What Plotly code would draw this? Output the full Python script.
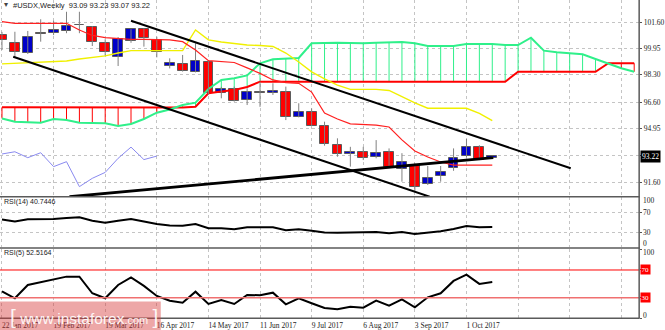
import plotly.graph_objects as go
from plotly.subplots import make_subplots

W, H = 665, 330

# ---- weekly USDX candles (bar index 0 = week of 22 Jan 2017) ----
opens = [100.77, 100.31, 99.68, 100.90, 100.89, 101.06, 101.42, 101.27, 100.31, 99.43,
         100.43, 101.14, 100.48, 98.85, 98.98, 98.49, 99.12, 97.18, 97.39, 96.73,
         97.20, 97.14, 97.24, 95.68, 95.99, 95.12, 93.91, 93.35, 93.49, 93.14,
         93.49, 92.39, 92.66, 91.48, 92.00, 92.46, 93.22, 93.76, 93.09]
highs = [100.98, 100.99, 101.04, 101.77, 101.68, 102.24, 102.24, 101.35, 100.52, 100.66,
         101.15, 101.20, 100.68, 99.33, 99.54, 100.27, 99.20, 97.55, 97.56, 97.46,
         97.87, 97.77, 97.56, 96.52, 96.20, 95.37, 94.33, 93.80, 93.80, 94.22,
         93.70, 93.40, 92.77, 92.60, 92.60, 93.70, 94.29, 93.90, 93.23]
lows = [99.85, 99.35, 99.60, 100.37, 100.78, 100.90, 100.90, 100.10, 99.47, 98.85,
        100.30, 100.06, 99.39, 98.70, 98.50, 98.45, 97.05, 96.83, 96.62, 96.41,
        96.30, 97.04, 95.47, 95.64, 95.10, 93.87, 93.18, 92.56, 92.97, 93.08,
        92.55, 91.62, 91.04, 91.41, 91.62, 92.30, 93.14, 92.97, 93.07]
closes = [100.47, 99.71, 100.68, 100.88, 101.10, 101.35, 101.40, 100.33, 99.74, 100.52,
          101.14, 100.58, 99.71, 99.06, 98.54, 99.18, 97.14, 97.39, 96.66, 97.24,
          97.17, 97.31, 95.64, 95.96, 95.12, 93.96, 93.35, 93.49, 93.12, 93.43,
          92.56, 92.87, 91.31, 91.83, 92.20, 93.08, 93.78, 93.00, 93.22]

# ---- Ichimoku ----
tenkan = [101.62, 101.52, 101.52, 101.52, 101.52, 101.52, 101.10, 100.76, 100.62, 100.57,
          100.52, 100.52, 100.52, 100.48, 100.37, 99.85, 99.18, 99.12, 99.07, 98.73,
          98.39, 97.98, 97.81, 97.77, 97.22, 95.91, 95.54, 95.23, 95.19, 95.16,
          95.04, 94.23, 93.54, 93.16, 92.85, 92.66, 92.66, 92.66, 92.66]
kijun = [98.98, 99.02, 99.04, 99.08, 99.13, 99.16, 99.29, 99.38, 99.48, 99.66,
         99.81, 99.81, 99.81, 99.81, 99.81, 101.10, 100.48, 100.35, 100.26, 100.16,
         100.13, 100.07, 99.66, 99.10, 98.48, 98.04, 97.66, 97.39, 97.39, 97.39,
         97.32, 96.91, 96.54, 96.21, 96.21, 96.21, 96.21, 95.89, 95.43]
# leading spans, already plotted 26 bars ahead (indices 0..49)
span_a = [95.57, 95.37, 95.34, 95.31, 95.54, 95.48, 95.31, 95.29, 95.27, 95.10,
          95.23, 95.54, 95.93, 96.13, 96.41, 96.56, 97.41, 97.98, 98.08, 98.26,
          99.02, 99.27, 99.33, 99.35, 100.27, 100.31, 100.31, 100.29, 100.27, 100.31,
          100.33, 100.35, 100.27, 100.10, 100.10, 100.10, 100.22, 100.22, 100.22, 100.16,
          100.16, 100.62, 99.81, 99.71, 99.66, 99.58, 99.29, 99.02, 98.71, 98.49]
span_b = [96.27, 96.27, 96.27, 96.27, 96.27, 96.27, 96.27, 96.27, 96.27, 96.27,
          96.27, 96.27, 96.27, 96.27, 96.25, 96.30, 97.15, 97.26, 97.35, 97.54,
          97.87, 97.87, 97.87, 97.87, 97.87, 97.87, 97.87, 97.87, 97.87, 97.87,
          97.87, 97.87, 97.87, 97.87, 97.87, 97.87, 97.87, 97.87, 97.87, 97.87,
          98.49, 98.49, 98.49, 98.49, 98.49, 98.49, 98.49, 99.02, 99.02, 99.02]
chikou_lag = 26

# ---- oscillators ----
rsi14 = [55.6, 51.6, 56.0, 56.2, 56.6, 58.6, 60.0, 53.2, 49.2, 53.2,
         56.6, 51.6, 46.6, 43.6, 43.2, 46.6, 38.0, 38.0, 36.0, 40.0,
         40.0, 40.0, 34.0, 36.0, 33.2, 29.6, 29.2, 29.2, 29.2, 30.6,
         28.0, 30.6, 26.6, 29.2, 32.0, 36.6, 42.6, 40.0, 40.7446]
rsi5 = [39.3, 29.2, 48.4, 52.3, 56.6, 60.4, 60.4, 36.4, 29.2, 48.4,
        59.2, 47.0, 32.5, 25.7, 22.8, 38.7, 21.0, 26.7, 21.0, 34.0,
        33.5, 37.3, 20.5, 29.2, 22.0, 15.2, 13.3, 17.0, 15.6, 25.7,
        18.5, 27.7, 16.2, 30.6, 36.4, 54.2, 63.3, 49.9, 52.5164]
rsi_levels = [70, 30]

# ---- hand-drawn trend lines (bar index, price) ----
trend_upper_x, trend_upper_y = [10.0, 44.08], [101.68, 92.46]
trend_lower_x, trend_lower_y = [0.87, 33.15], [99.43, 90.68]
trend_rise_x, trend_rise_y = [5.23, 38.08], [90.68, 93.12]

# ---- axis labels ----
date_labels = ["22 Jan 2017", "19 Feb 2017", "19 Mar 2017", "16 Apr 2017", "14 May 2017",
               "11 Jun 2017", "9 Jul 2017", "6 Aug 2017", "3 Sep 2017", "1 Oct 2017"]
label_step = 4
price_ticks = [91.60, 93.25, 94.95, 96.60, 98.30, 99.95, 101.60]
title_text = "#USDX,Weekly  93.09 93.23 93.07 93.22"
last_price = 93.22

# ---------------------------------------------------------------
def px(xpix):
    return xpix / W


def py(ypix):
    return 1 - ypix / H


PLOT_R = 644
n = len(closes)
idx = list(range(n))

fig = make_subplots(rows=3, cols=1, shared_xaxes=True, vertical_spacing=0.0)

# cloud hatching between the leading spans
hx_g, hy_g, hx_r, hy_r = [], [], [], []
for i, (a, b) in enumerate(zip(span_a, span_b)):
    if a >= b:
        hx_g += [i, i, None]
        hy_g += [a, b, None]
    else:
        hx_r += [i, i, None]
        hy_r += [a, b, None]
green = "#2ff08a"
fig.add_trace(go.Scatter(x=hx_g, y=hy_g, mode="lines", line=dict(color=green, width=1),
                         hoverinfo="skip"), row=1, col=1)
fig.add_trace(go.Scatter(x=hx_r, y=hy_r, mode="lines", line=dict(color="#ff0000", width=1),
                         hoverinfo="skip"), row=1, col=1)
span_x = list(range(len(span_a)))
fig.add_trace(go.Scatter(x=span_x, y=span_b, mode="lines", line=dict(color="#ff0000", width=2)),
              row=1, col=1)
fig.add_trace(go.Scatter(x=span_x, y=span_a, mode="lines", line=dict(color=green, width=2)),
              row=1, col=1)

# candles: wicks then bodies
wx, wy = [], []
for i in idx:
    wx += [i, i, None]
    wy += [lows[i], highs[i], None]
fig.add_trace(go.Scatter(x=wx, y=wy, mode="lines", line=dict(color="#808080", width=1),
                         hoverinfo="skip"), row=1, col=1)

for up, fill in ((True, "#0000c8"), (False, "#ff0000")):
    sel = [i for i in idx if (closes[i] > opens[i]) == up]
    fig.add_trace(go.Bar(
        x=sel,
        base=[min(opens[i], closes[i]) for i in sel],
        y=[abs(closes[i] - opens[i]) for i in sel],
        width=0.76,
        marker=dict(color=fill, line=dict(color="#5c5c5c", width=1)),
    ), row=1, col=1)

# Kijun, Tenkan, lagging span
fig.add_trace(go.Scatter(x=idx, y=kijun, mode="lines", line=dict(color="#f0f000", width=1.4)),
              row=1, col=1)
fig.add_trace(go.Scatter(x=idx, y=tenkan, mode="lines", line=dict(color="#ff2020", width=1.2)),
              row=1, col=1)
lag_x = [i - chikou_lag for i in idx if i >= chikou_lag]
lag_y = [closes[i] for i in idx if i >= chikou_lag]
fig.add_trace(go.Scatter(x=lag_x, y=lag_y, mode="lines", line=dict(color="#8a8af0", width=1)),
              row=1, col=1)

# trend lines
for tx, ty, w in ((trend_upper_x, trend_upper_y, 2), (trend_lower_x, trend_lower_y, 2),
                  (trend_rise_x, trend_rise_y, 2.8)):
    fig.add_trace(go.Scatter(x=tx, y=ty, mode="lines", line=dict(color="#000000", width=w)),
                  row=1, col=1)

# RSI panels
fig.add_trace(go.Scatter(x=idx, y=rsi14, mode="lines", line=dict(color="#000000", width=2)),
              row=2, col=1)
fig.add_trace(go.Scatter(x=idx, y=rsi5, mode="lines", line=dict(color="#000000", width=2)),
              row=3, col=1)

# ---- axes ----
xr = [-2 / 13, (PLOT_R - 2) / 13]
tick_idx = list(range(0, 49, label_step))
tick_txt = [date_labels[k] if k < len(date_labels) else "" for k in range(len(tick_idx))]
axis_font = dict(family="Liberation Serif", size=7.5, color="#222222")

fig.update_xaxes(range=xr, domain=[0, px(PLOT_R)], showgrid=True, griddash="dot",
                 gridcolor="#c4c4c4", gridwidth=1, tickvals=tick_idx, zeroline=False,
                 showline=False)
fig.update_xaxes(ticktext=tick_txt, tickfont=axis_font, ticks="", showticklabels=True,
                 ticklabelposition="outside right", ticklabelstandoff=1, row=3, col=1)

main_bottom = 196.0
fig.update_layout(
    yaxis=dict(domain=[py(main_bottom), 1],
               range=[101.6 - (main_bottom - 22) / 16, 101.6 + 22 / 16],
               side="right", tickvals=price_ticks,
               ticktext=[("" if abs(v - 93.25) < 1e-6 else f"{v:.2f}") for v in price_ticks],
               tickfont=axis_font, ticks="outside", ticklen=2, tickcolor="#555555",
               showgrid=True, griddash="dot", gridcolor="#c4c4c4", zeroline=False),
    yaxis2=dict(domain=[py(247.3), py(197.3)], range=[0, 100], side="right",
                tickvals=rsi_levels, showticklabels=False, ticks="outside", ticklen=2,
                tickcolor="#555555", showgrid=True, griddash="dot", gridcolor="#c4c4c4",
                zeroline=False),
    yaxis3=dict(domain=[py(318.5), py(249.2)], range=[0, 100], side="right",
                tickvals=[0, 30, 70, 100], showticklabels=False, ticks="outside", ticklen=2,
                tickcolor="#555555", showgrid=False, zeroline=False),
)

shapes = []
# RSI(5) levels
shapes.append(dict(type="line", xref="paper", yref="y3", x0=0, x1=px(PLOT_R),
                   y0=rsi_levels[0], y1=rsi_levels[0], line=dict(color="#ff0000", width=1)))
shapes.append(dict(type="line", xref="paper", yref="y3", x0=0, x1=px(PLOT_R),
                   y0=rsi_levels[1], y1=rsi_levels[1], line=dict(color="#f07070", width=1.6)))
# panel separators and right border
for yy in (196.7, 248.0, 318.3):
    shapes.append(dict(type="line", xref="paper", yref="paper", x0=0, x1=px(PLOT_R + 0.5),
                       y0=py(yy), y1=py(yy), line=dict(color="#5a5a5a", width=1.5)))
shapes.append(dict(type="line", xref="paper", yref="paper", x0=px(PLOT_R), x1=px(PLOT_R),
                   y0=py(0), y1=py(318.3), line=dict(color="#5a5a5a", width=1.5)))
# watermark plate
shapes.append(dict(type="rect", xref="paper", yref="paper", x0=0, x1=px(162),
                   y0=py(330), y1=py(301.5), line=dict(width=0),
                   fillcolor="rgba(215,60,60,0.45)", layer="above"))

ann = []
lab_font = dict(family="Liberation Sans", size=7, color="#222222")
ann.append(dict(xref="paper", yref="paper", x=px(2), y=py(5), xanchor="left", yanchor="middle",
                text="▾", showarrow=False, font=dict(family="DejaVu Sans", size=8, color="#444")))
ann.append(dict(xref="paper", yref="paper", x=px(11), y=py(5.5), xanchor="left",
                yanchor="middle", text=title_text, showarrow=False,
                font=dict(family="Liberation Sans", size=7.5, color="#222222")))
ann.append(dict(xref="paper", yref="paper", x=px(2), y=py(202.3), xanchor="left",
                yanchor="middle", text=f"RSI(14) {rsi14[-1]:.4f}", showarrow=False,
                font=lab_font))
ann.append(dict(xref="paper", yref="paper", x=px(2), y=py(253.3), xanchor="left",
                yanchor="middle", text=f"RSI(5) {rsi5[-1]:.4f}", showarrow=False,
                font=lab_font))
# current price marker
ann.append(dict(xref="paper", yref="y", x=px(645), y=last_price, xanchor="left",
                yanchor="middle", text=f"{last_price:.2f}", showarrow=False,
                bgcolor="#000000", borderpad=1,
                font=dict(family="Liberation Serif", size=7.5, color="#ffffff")))
# oscillator scale labels
for val, ypix in ((100, 200.7), (70, 212.3), (30, 232.3), (0, 243.0)):
    ann.append(dict(xref="paper", yref="paper", x=px(646), y=py(ypix), xanchor="left",
                    yanchor="middle", text=str(val), showarrow=False, font=axis_font))
for val, ypix in ((100, 252.3), (0, 315.0)):
    ann.append(dict(xref="paper", yref="paper", x=px(646), y=py(ypix), xanchor="left",
                    yanchor="middle", text=str(val), showarrow=False, font=axis_font))
for val in rsi_levels:
    ann.append(dict(xref="paper", yref="y3", x=px(645), y=val, xanchor="left",
                    yanchor="middle", text=str(val), showarrow=False, bgcolor="#ff0000",
                    borderpad=0.5,
                    font=dict(family="Liberation Serif", size=7, color="#ffffff")))
# watermark text
ann.append(dict(xref="paper", yref="paper", x=px(8), y=py(316.5), xanchor="left",
                yanchor="middle", showarrow=False,
                text="<span style='font-size:21px'>[</span> www.instaforex"
                     "<span style='font-size:11px'>.com</span> "
                     "<span style='font-size:21px'>]</span>",
                font=dict(family="Liberation Sans", size=15.5, color="rgba(255,255,255,0.92)")))

fig.update_layout(
    width=W, height=H, margin=dict(l=0, r=0, t=0, b=0),
    paper_bgcolor="#ffffff", plot_bgcolor="#ffffff",
    showlegend=False, barmode="overlay", bargap=0,
    shapes=shapes, annotations=ann,
)

fig.write_html("out.html")
